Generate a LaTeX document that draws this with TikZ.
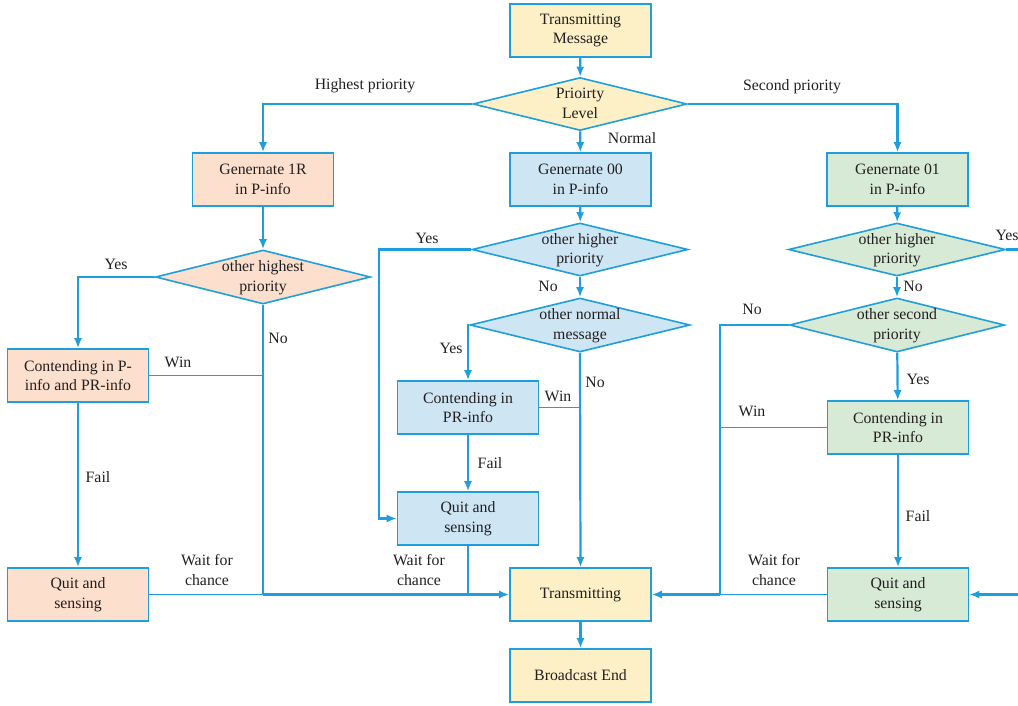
\documentclass[tikz,border=0pt]{standalone}
\usepackage{fontspec}
\setmainfont{Liberation Serif}
\usetikzlibrary{shapes.geometric,arrows.meta}
\definecolor{lineblue}{RGB}{30,158,218}
\definecolor{fyel}{RGB}{253,240,198}
\definecolor{fora}{RGB}{252,223,205}
\definecolor{fblu}{RGB}{206,230,244}
\definecolor{fgrn}{RGB}{215,234,213}
\definecolor{txt}{RGB}{35,31,32}
\newcommand{\dtext}[1]{\makebox[0pt]{\smash{\raisebox{-0.25em}{\begin{tabular}{@{}c@{}}#1\end{tabular}}}}}
\begin{document}
\begin{tikzpicture}[x=1pt,y=-1pt,
  font=\fontsize{15.8}{19.5}\selectfont,
  box/.style={draw=lineblue, line width=1.6pt, rectangle, minimum width=141pt, minimum height=53pt, align=center, inner sep=0pt, text=txt},
  dia/.style={draw=lineblue, line width=1.6pt, diamond, inner sep=0pt, text=txt},
  arr/.style={draw=lineblue, line width=2.2pt, -{Latex[length=10pt,width=8pt]}},
  ln/.style={draw=lineblue, line width=2.2pt},
  thinln/.style={draw=lineblue, line width=1.5pt},
  lab/.style={text=txt, inner sep=0pt, align=center}]
\useasboundingbox (0,0) rectangle (1018,705);

% nodes
\node[box, fill=fyel] (tm) at (580.5,30.5) {Transmitting\\Message};
\node[dia, fill=fyel, minimum width=214pt, minimum height=53pt] (pl) at (580,104) {\dtext{Prioirty\\Level}};
\node[box, fill=fora] (g1) at (263,179.5) {Genernate 1R\\in P-info};
\node[box, fill=fblu] (g0) at (580.5,179.5) {Genernate 00\\in P-info};
\node[box, fill=fgrn] (g2) at (897.5,179.5) {Genernate 01\\in P-info};
\node[dia, fill=fora, minimum width=215pt, minimum height=54pt] (oh) at (263,277) {\dtext{other highest\\priority}};
\node[dia, fill=fblu, minimum width=216pt, minimum height=53pt] (ohm) at (580,249.5) {\dtext{other higher\\priority}};
\node[dia, fill=fblu, minimum width=220pt, minimum height=54pt] (onm) at (580,325) {\dtext{other normal\\message}};
\node[dia, fill=fgrn, minimum width=217pt, minimum height=53pt] (ohr) at (897,249.5) {\dtext{other higher\\priority}};
\node[dia, fill=fgrn, minimum width=215pt, minimum height=54pt] (osp) at (897,325) {\dtext{other second\\priority}};
\node[box, fill=fora] (cl) at (78,375.5) {Contending in P-\\info and PR-info};
\node[box, fill=fblu] (cm) at (468,407.5) {Contending in\\PR-info};
\node[box, fill=fgrn] (cr) at (898,427.5) {Contending in\\PR-info};
\node[box, fill=fora] (ql) at (78,594.5) {Quit and\\sensing};
\node[box, fill=fblu] (qm) at (468,518.5) {Quit and\\sensing};
\node[box, fill=fgrn] (qr) at (898,594.5) {Quit and\\sensing};
\node[box, fill=fyel] (tr) at (580.5,594.5) {Transmitting};
\node[box, fill=fyel] (be) at (580.5,675.5) {Broadcast End};

% junction coordinates
\coordinate (jl) at (263,594.5);
\coordinate (jm) at (468,594.5);
\coordinate (jr) at (720,594.5);
\coordinate (eyes) at (1018,249.5);
\coordinate (ein) at (1018,594.5);

% connectors
\draw[arr] (tm) -- (pl);
\draw[arr] (pl.west) -| (g1.north);
\draw[arr] (pl.east) -| (g2.north);
\draw[arr] (pl) -- (g0);
\draw[arr] (g1) -- (oh);
\draw[arr] (oh.west) -| (cl.north);
\draw[ln] (oh.south) -- (jl);
\draw[thinln] (cl.east) -- (cl.east -| jl);
\draw[arr] (cl) -- (ql);
\draw[thinln] (ql.east) -- (jl);
\draw[arr] (jl) -- (tr.west);

\draw[arr] (g0) -- (ohm);
\draw[arr] (ohm.west) -- ++(-92,0) |- (qm.west);
\draw[arr] (ohm) -- (onm);
\draw[arr] (onm.west) -| (cm.north);
\draw[arr] (onm.south) -- (tr.north);
\draw[thinln] (cm.east) -- (cm.east -| onm.south);
\draw[arr] (cm) -- (qm);
\draw[thinln] (qm.south) -- (jm);

\draw[arr] (g2) -- (ohr);
\draw[ln] (ohr.east) -- (eyes);
\draw[arr] (ohr) -- (osp);
\draw[ln] (osp.west) -| (jr);
\draw[thinln] (cr.west) -- (cr.west -| jr);
\draw[arr] (osp) -- (cr);
\draw[arr] (cr) -- (qr);
\draw[thinln] (qr.west) -- (jr);
\draw[arr] (jr) -- (tr.east);
\draw[arr] (ein) -- (qr.east);
\draw[arr] (tr) -- (be);

% labels
\node[lab] (l1) at (365,86) {Highest priority};
\node[lab] (l2) at (792,87) {Second priority};
\node[lab] (l3) at (632,138) {Normal};
\node[lab] (l4) at (116,264) {Yes};
\node[lab] (l5) at (278,338) {No};
\node[lab] (l6) at (178,362) {Win};
\node[lab] (l7) at (98,477) {Fail};
\node[lab] (l8) at (207,570) {Wait for\\chance};
\node[lab] (l9) at (427,238) {Yes};
\node[lab] (l10) at (548,286) {No};
\node[lab] (l11) at (451,348) {Yes};
\node[lab] (l12) at (595,382) {No};
\node[lab] (l13) at (558,396) {Win};
\node[lab] (l14) at (490,463) {Fail};
\node[lab] (l15) at (419,570) {Wait for\\chance};
\node[lab] (l16) at (1007,235) {Yes};
\node[lab] (l17) at (913,286) {No};
\node[lab] (l18) at (752,309) {No};
\node[lab] (l19) at (752,411) {Win};
\node[lab] (l20) at (918,379) {Yes};
\node[lab] (l21) at (918,516) {Fail};
\node[lab] (l22) at (774,570) {Wait for\\chance};
\end{tikzpicture}
\end{document}
